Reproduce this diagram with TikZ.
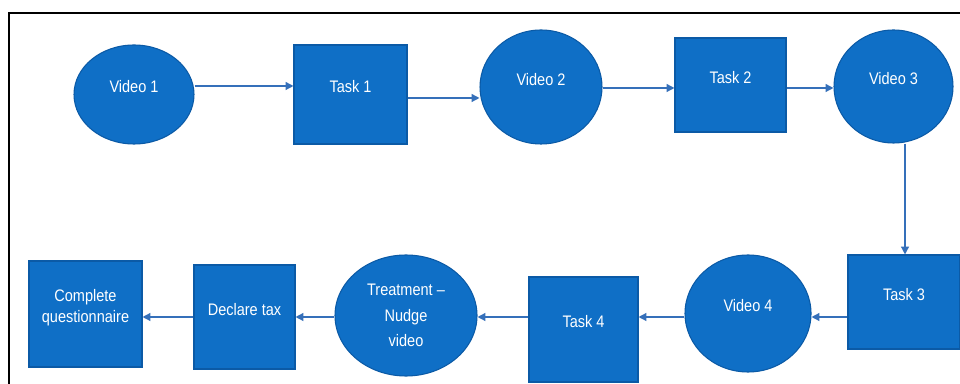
\documentclass[tikz,border=0pt]{standalone}
\usepackage{fontspec}
\setmainfont{Liberation Sans}[FakeStretch=0.87]
\usepackage{tikz}
\usetikzlibrary{shapes.geometric, arrows.meta}
\definecolor{stepblue}{HTML}{0F6FC6}
\definecolor{stepedge}{HTML}{0B5AA6}
\definecolor{flowblue}{HTML}{3570BA}

\begin{document}
\begin{tikzpicture}[font=\fontsize{9.5}{12}\selectfont,
    vid/.style={ellipse, draw=stepedge, fill=stepblue, line width=0.6pt,
      text=white, inner sep=0pt, align=center, text height=7.5pt, text depth=9.7pt},
    task/.style={rectangle, draw=stepedge, fill=stepblue, line width=0.6pt,
      text=white, inner sep=0pt, align=center, text height=7.5pt, text depth=9.7pt},
    flow/.style={-{Triangle[length=4.5pt,width=4.5pt]}, line width=0.8pt, flowblue}]
    % Canvas and outer frame
    \fill[white, use as bounding box] (0,0) rectangle (19.2,7.68);
    \draw[line width=1.2pt] (0.18,-0.3) -- (0.18,7.42) -- (19.5,7.42);

    % Top row (left to right)
    \node[vid, minimum width=2.40cm, minimum height=1.98cm] (video1) at (2.68,5.79) {Video 1};
    \node[task, minimum width=2.26cm, minimum height=1.98cm] (task1) at (7.01,5.79) {Task 1};
    \node[vid, minimum width=2.44cm, minimum height=2.28cm] (video2) at (10.82,5.94) {Video 2};
    \node[task, minimum width=2.22cm, minimum height=1.88cm] (task2) at (14.61,5.98) {Task 2};
    \node[vid, minimum width=2.38cm, minimum height=2.26cm] (video3) at (17.87,5.95) {Video 3};

    % Bottom row (right to left)
    \node[task, minimum width=2.24cm, minimum height=1.88cm] (task3) at (18.08,1.64) {Task 3};
    \node[vid, minimum width=2.52cm, minimum height=2.34cm] (video4) at (14.96,1.41) {Video 4};
    \node[task, minimum width=2.18cm, minimum height=2.10cm] (task4) at (11.67,1.09) {Task 4};
    \node[vid, minimum width=2.84cm, minimum height=2.42cm, text height=35.8pt, text depth=0pt,
      font=\fontsize{9.5}{14.5}\selectfont] (nudge) at (8.12,1.37)
      {Treatment --\\Nudge\\video};
    \node[task, minimum width=2.02cm, minimum height=2.08cm] (declare) at (4.89,1.34) {Declare tax};
    \node[task, minimum width=2.26cm, minimum height=2.12cm, text height=9.8pt, text depth=0pt]
      (survey) at (1.71,1.40) {Complete\\questionnaire};

    % Connectors
    \draw[flow] (video1.east |- 0,5.96) -- (task1.west |- 0,5.96);
    \draw[flow] (task1.east |- 0,5.72) -- (video2.west |- 0,5.72);
    \draw[flow] (video2.east |- 0,5.92) -- (task2.west |- 0,5.92);
    \draw[flow] (task2.east |- 0,5.92) -- (video3.west |- 0,5.92);
    \draw[flow] (video3.south -| 18.1,0) -- (task3.north -| 18.1,0);
    \draw[flow] (task3.west |- 0,1.34) -- (video4.east |- 0,1.34);
    \draw[flow] (video4.west |- 0,1.34) -- (task4.east |- 0,1.34);
    \draw[flow] (task4.west |- 0,1.34) -- (nudge.east |- 0,1.34);
    \draw[flow] (nudge.west |- 0,1.34) -- (declare.east |- 0,1.34);
    \draw[flow] (declare.west |- 0,1.34) -- (survey.east |- 0,1.34);
\end{tikzpicture}
\end{document}
